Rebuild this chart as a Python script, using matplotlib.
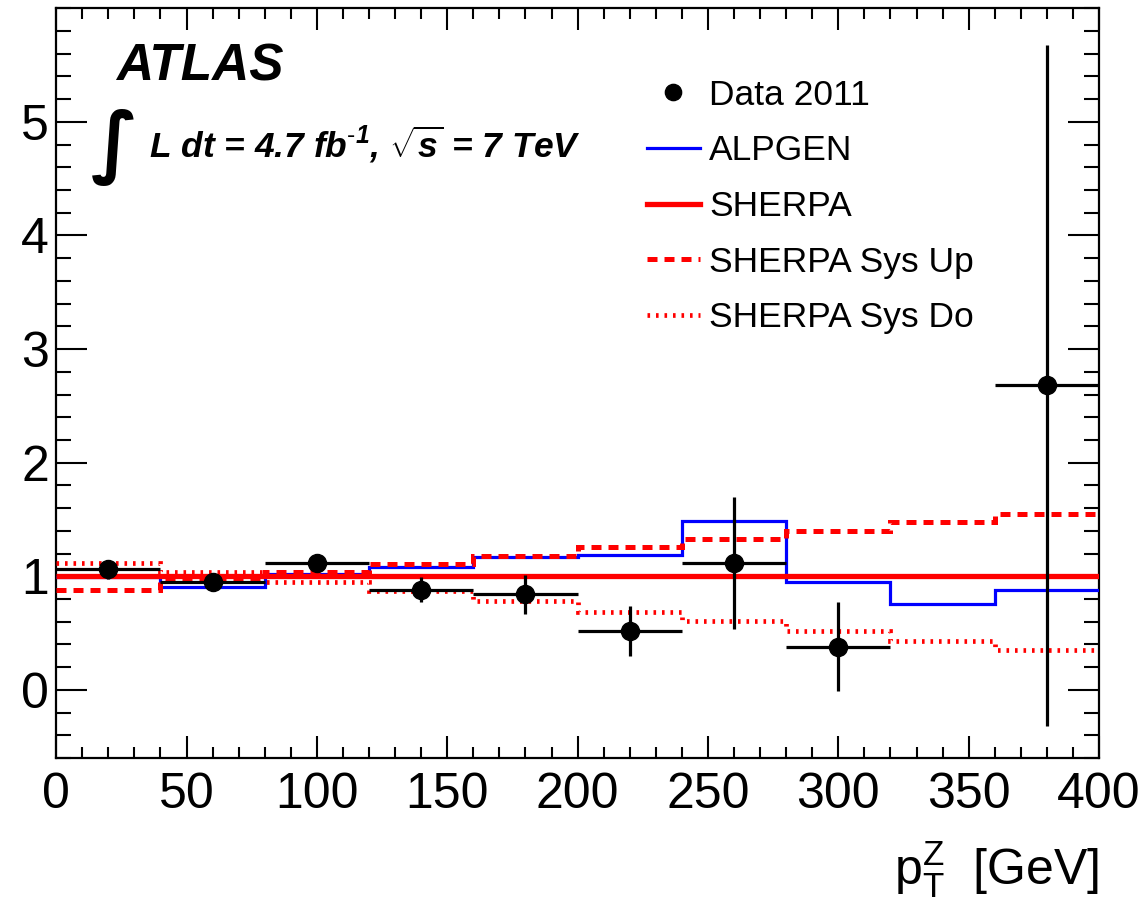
import matplotlib
matplotlib.use("Agg")
import matplotlib.pyplot as plt
from matplotlib.ticker import MultipleLocator
import numpy as np

plt.rcParams['font.family'] = ['Liberation Sans', 'DejaVu Sans']
plt.rcParams['mathtext.fontset'] = 'custom'
plt.rcParams['mathtext.rm'] = 'Liberation Sans'
plt.rcParams['mathtext.it'] = 'Liberation Sans:italic'
plt.rcParams['mathtext.bf'] = 'Liberation Sans:bold:italic'

# pT(Z) binning, 40 GeV bins
edges = np.arange(0, 440, 40)

# data / SHERPA ratio (last point sits in the 360-400 bin)
data_x = [20, 60, 100, 140, 180, 220, 260, 300, 380]
data_y = [1.06, 0.95, 1.12, 0.88, 0.84, 0.52, 1.12, 0.38, 2.68]
data_err = [0.08, 0.04, 0.07, 0.11, 0.17, 0.22, 0.58, 0.39, 3.0]

alpgen = [0.99, 0.91, 1.02, 1.08, 1.17, 1.19, 1.49, 0.95, 0.76, 0.88]
sherpa = [1.0] * 10
sherpa_up = [0.88, 0.97, 1.04, 1.11, 1.18, 1.26, 1.33, 1.40, 1.48, 1.55]
sherpa_do = [1.12, 1.04, 0.95, 0.87, 0.78, 0.69, 0.61, 0.52, 0.43, 0.35]

fig = plt.figure(figsize=(11.46, 9.09), dpi=100)
ax = fig.add_axes([0.049, 0.166, 0.910, 0.825])

ax.errorbar(data_x, data_y, xerr=20, yerr=data_err, fmt='none',
            ecolor='black', elinewidth=2.3, capsize=0, zorder=5)
ax.plot(data_x, data_y, 'o', color='black', markersize=13, zorder=6,
        label='Data 2011')

ax.stairs(alpgen, edges, baseline=None, color='blue', linewidth=2.3,
          label='ALPGEN', zorder=3)
ax.stairs(sherpa, edges, baseline=None, color='red', linewidth=3.8,
          label='SHERPA', zorder=4)
ax.stairs(sherpa_up, edges, baseline=None, color='red', linewidth=3.6,
          linestyle=(0, (2.0, 1.4)), label='SHERPA Sys Up', zorder=3)
ax.stairs(sherpa_do, edges, baseline=None, color='red', linewidth=3.4,
          linestyle=(0, (0.55, 1.25)), label='SHERPA Sys Do', zorder=3)

ax.set_xlim(0, 400)
ax.set_ylim(-0.6, 6.0)
ax.xaxis.set_major_locator(MultipleLocator(50))
ax.xaxis.set_minor_locator(MultipleLocator(10))
ax.yaxis.set_major_locator(MultipleLocator(1))
ax.yaxis.set_minor_locator(MultipleLocator(0.2))
ax.set_yticks([0, 1, 2, 3, 4, 5])
ax.tick_params(axis='both', which='both', direction='in', top=True, right=True,
               width=1.5, labelsize=36)
ax.tick_params(axis='x', which='major', length=16, pad=10)
ax.tick_params(axis='x', which='minor', length=8)
ax.tick_params(axis='y', which='major', length=22, pad=5)
ax.tick_params(axis='y', which='minor', length=11)
for sp in ax.spines.values():
    sp.set_linewidth(1.6)

ax.set_xlabel(r'$\mathrm{p}_\mathrm{T}^\mathrm{Z}$  [GeV]', fontsize=36,
              loc='right', labelpad=15)

# experiment label
ax.text(0.057, 0.904, 'ATLAS', transform=ax.transAxes, fontsize=37,
        fontweight='bold', fontstyle='italic', va='baseline')
ax.text(0.056, 0.814, '\u222b', transform=ax.transAxes, fontsize=56,
        family='DejaVu Sans', fontweight='bold', ha='center', va='center')
ax.text(0.089, 0.801, r'L dt = 4.7 fb$^{\mathbf{\text{-}1}}$, $\sqrt{\mathbf{s}}$ = 7 TeV',
        transform=ax.transAxes, fontsize=25.5, fontweight='bold',
        fontstyle='italic', va='baseline')

ax.legend(loc='upper left', bbox_to_anchor=(0.567, 0.906), frameon=False,
          fontsize=25.5, handlelength=1.47, handletextpad=0.28,
          labelspacing=0.64, borderpad=0, borderaxespad=0, markerscale=0.9)

fig.savefig('out.png', dpi=100)
